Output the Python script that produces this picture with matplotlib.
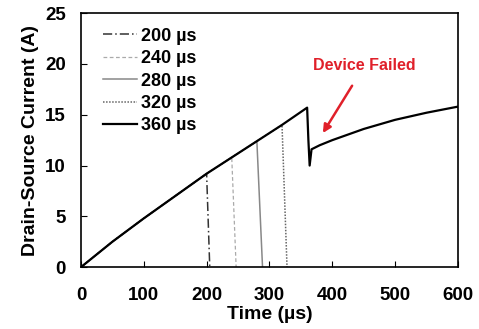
import matplotlib.pyplot as plt
import numpy as np

plt.rcParams['font.family'] = ['Liberation Sans', 'DejaVu Sans']
plt.rcParams['font.weight'] = 'bold'

# Rising drain current shared by all pulses (µs, A)
t_rise = [0, 50, 100, 150, 200, 240, 280, 320, 360]
i_rise = [0, 2.5, 4.8, 7.0, 9.2, 10.8, 12.4, 14.0, 15.7]

# Turn-off: time where the current reaches zero for each pulse width
pulse_widths = [200, 240, 280, 320]
t_off_end = [205, 247, 289, 328]

# 360 µs pulse after failure
t_fail = [360, 362, 364, 367, 380, 400, 450, 500, 550, 600]
i_fail = [15.7, 12.5, 10.0, 11.6, 12.0, 12.5, 13.6, 14.5, 15.2, 15.8]

styles = [
    dict(color='#333333', linestyle=(0, (6, 2, 1, 2)), lw=1.1),
    dict(color='#aaaaaa', linestyle=(0, (3, 2)), lw=0.9),
    dict(color='#888888', linestyle='-', lw=1.1),
    dict(color='#666666', linestyle=(0, (1, 1)), lw=1.1),
]

fig = plt.figure(figsize=(4.79, 3.29), dpi=100)
ax = fig.add_axes([0.169, 0.188, 0.787, 0.772])

t_arr = np.array(t_rise)
i_arr = np.array(i_rise)
for w, tend, st in zip(pulse_widths, t_off_end, styles):
    m = t_arr <= w
    tt = list(t_arr[m]) + [tend]
    ii = list(i_arr[m]) + [0]
    ax.plot(tt, ii, label=f'{w} µs', **st)

ax.plot(t_rise + t_fail[1:], i_rise + i_fail[1:], color='black', lw=1.6,
        label='360 µs')

ax.annotate('Device Failed', xy=(385, 13.2), xytext=(451, 19.8),
            color='#e0202a', fontsize=11.5, fontweight='bold',
            ha='center', va='center',
            arrowprops=dict(arrowstyle='-|>', color='#e0202a', lw=1.8,
                            shrinkA=8, shrinkB=0, mutation_scale=12))

ax.set_xlim(0, 600)
ax.set_ylim(0, 25)
ax.set_xticks(range(0, 601, 100))
ax.set_yticks(range(0, 26, 5))
ax.tick_params(direction='in', length=4, labelsize=13.5, top=False, right=False)
ax.tick_params(axis='x', pad=14)
ax.tick_params(axis='y', pad=11)
for lab in ax.get_xticklabels() + ax.get_yticklabels():
    lab.set_fontweight('bold')
for s in ax.spines.values():
    s.set_linewidth(1.2)

ax.set_xlabel('Time (µs)', fontsize=14, fontweight='bold', labelpad=2)
ax.set_ylabel('Drain-Source Current (A)', fontsize=14, fontweight='bold',
              labelpad=4)

ax.legend(loc='upper left', frameon=False, fontsize=13, handlelength=1.9,
          labelspacing=0.3, handletextpad=0.2, borderaxespad=0.2,
          bbox_to_anchor=(0.03, 0.985))

fig.savefig('out.png', dpi=100)
